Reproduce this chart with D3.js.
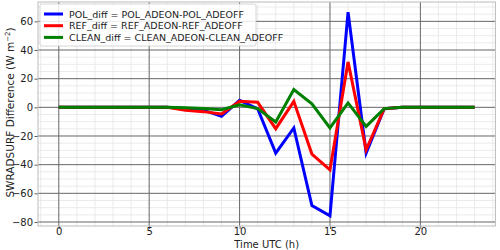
<!DOCTYPE html>
<html><head><meta charset="utf-8">
<script src="https://cdn.jsdelivr.net/npm/d3@7"></script>
<style>body{margin:0;background:#fff}svg{display:block;font-family:"DejaVu Sans",sans-serif}</style>
</head><body><svg id="c" width="500" height="250"></svg>
<script>
const hours = [0,1,2,3,4,5,6,7,8,9,10,11,12,13,14,15,16,17,18,19,20,21,22,23];
const polDiff   = [0,0,0,0,0,0,0,-1,-2,-6.3,4.9,-1,-31.9,-14.4,-68.5,-75.7,66.4,-31.9,-1,0,0,0,0,0];
const refDiff   = [0,0,0,0,0,0,0,-2,-3,-4.6,4.2,3.5,-14.9,4.2,-32.6,-43.6,31.7,-29.6,-1,0,0,0,0,0];
const cleanDiff = [0,0,0,0,0,0,0,-0.3,-0.8,-1.6,1.7,-0.9,-10.2,12.4,2.4,-14.4,3.1,-13.3,-0.9,0,0,0,0,0];
const seriesNames = ["POL_diff = POL_ADEON-POL_ADEOFF","REF_diff = REF_ADEON-REF_ADEOFF","CLEAN_diff = CLEAN_ADEON-CLEAN_ADEOFF"];
const seriesColors = ["#0000ff","#ff0000","#008000"];
const xTicks = [0,5,10,15,20];
const yTicks = [-80,-60,-40,-20,0,20,40,60];

const svg = d3.select("#c");
const L=38, R=495.4, T=2, B=226;
const x = d3.scaleLinear().domain([-1.15,24.15]).range([L,R]);
const y = d3.scaleLinear().domain([-82.8,73.5]).range([B,T]);

// minor grid
const g = svg.append("g");
d3.range(-1,25,1).filter(v=>v%5!==0).forEach(v=>{
  g.append("line").attr("x1",x(v)).attr("x2",x(v)).attr("y1",T).attr("y2",B).attr("stroke","#e6e6e6").attr("stroke-width",0.8);
});
d3.range(-80,75,5).filter(v=>v%20!==0).forEach(v=>{
  g.append("line").attr("y1",y(v)).attr("y2",y(v)).attr("x1",L).attr("x2",R).attr("stroke","#e6e6e6").attr("stroke-width",0.8);
});
// major grid
xTicks.forEach(v=>g.append("line").attr("x1",x(v)).attr("x2",x(v)).attr("y1",T).attr("y2",B).attr("stroke","#666").attr("stroke-width",1));
yTicks.forEach(v=>g.append("line").attr("y1",y(v)).attr("y2",y(v)).attr("x1",L).attr("x2",R).attr("stroke","#666").attr("stroke-width",1));

// axes
const fmt = d => d<0 ? "\u2212"+Math.abs(d) : ""+d;
const xa = svg.append("g").attr("transform",`translate(0,${B})`)
  .call(d3.axisBottom(x).tickValues(xTicks).tickSize(3).tickPadding(-1).tickFormat(fmt));
const ya = svg.append("g").attr("transform",`translate(${L},0)`)
  .call(d3.axisLeft(y).tickValues(yTicks).tickSize(3.5).tickPadding(1.5).tickFormat(fmt));
[xa,ya].forEach(a=>{a.select(".domain").remove();a.selectAll("line").attr("stroke","#333").attr("stroke-width",0.8);
  a.selectAll("text").attr("font-size",10).attr("fill","#222").attr("font-family","DejaVu Sans");});

// frame
svg.append("rect").attr("x",L).attr("y",T).attr("width",R-L).attr("height",B-T).attr("fill","none").attr("stroke","#bbb").attr("stroke-width",1);

// lines
const line = d3.line().x((d,i)=>x(hours[i])).y(d=>y(d));
[polDiff,refDiff,cleanDiff].forEach((s,i)=>{
  svg.append("path").datum(s).attr("d",line).attr("fill","none").attr("stroke",seriesColors[i])
    .attr("stroke-width",3).attr("stroke-linejoin","miter");
});

// labels
svg.append("text").attr("x",(L+R)/2).attr("y",247.5).attr("text-anchor","middle").attr("font-size",10).attr("fill","#222").text("Time UTC (h)");
const yl = svg.append("text").attr("transform",`translate(14,112.5) rotate(-90)`).attr("text-anchor","middle").attr("font-size",10.5).attr("fill","#222");
yl.append("tspan").text("SWRADSURF Difference (W m");
yl.append("tspan").attr("font-size",7).attr("dy",-4).text("\u22122");
yl.append("tspan").attr("dy",4).text(")");

// legend
const lg = svg.append("g");
lg.append("rect").attr("x",40).attr("y",4).attr("width",216).attr("height",42).attr("rx",2)
  .attr("fill","#fff").attr("fill-opacity",0.85).attr("stroke","#ccc").attr("stroke-width",0.8);
seriesNames.forEach((n,i)=>{
  const yy = 14 + i*11.7;
  lg.append("line").attr("x1",44).attr("x2",63).attr("y1",yy).attr("y2",yy).attr("stroke",seriesColors[i]).attr("stroke-width",3);
  lg.append("text").attr("x",69).attr("y",yy+3.5).attr("font-size",9.5).attr("fill","#222").text(n);
});
</script></body></html>
